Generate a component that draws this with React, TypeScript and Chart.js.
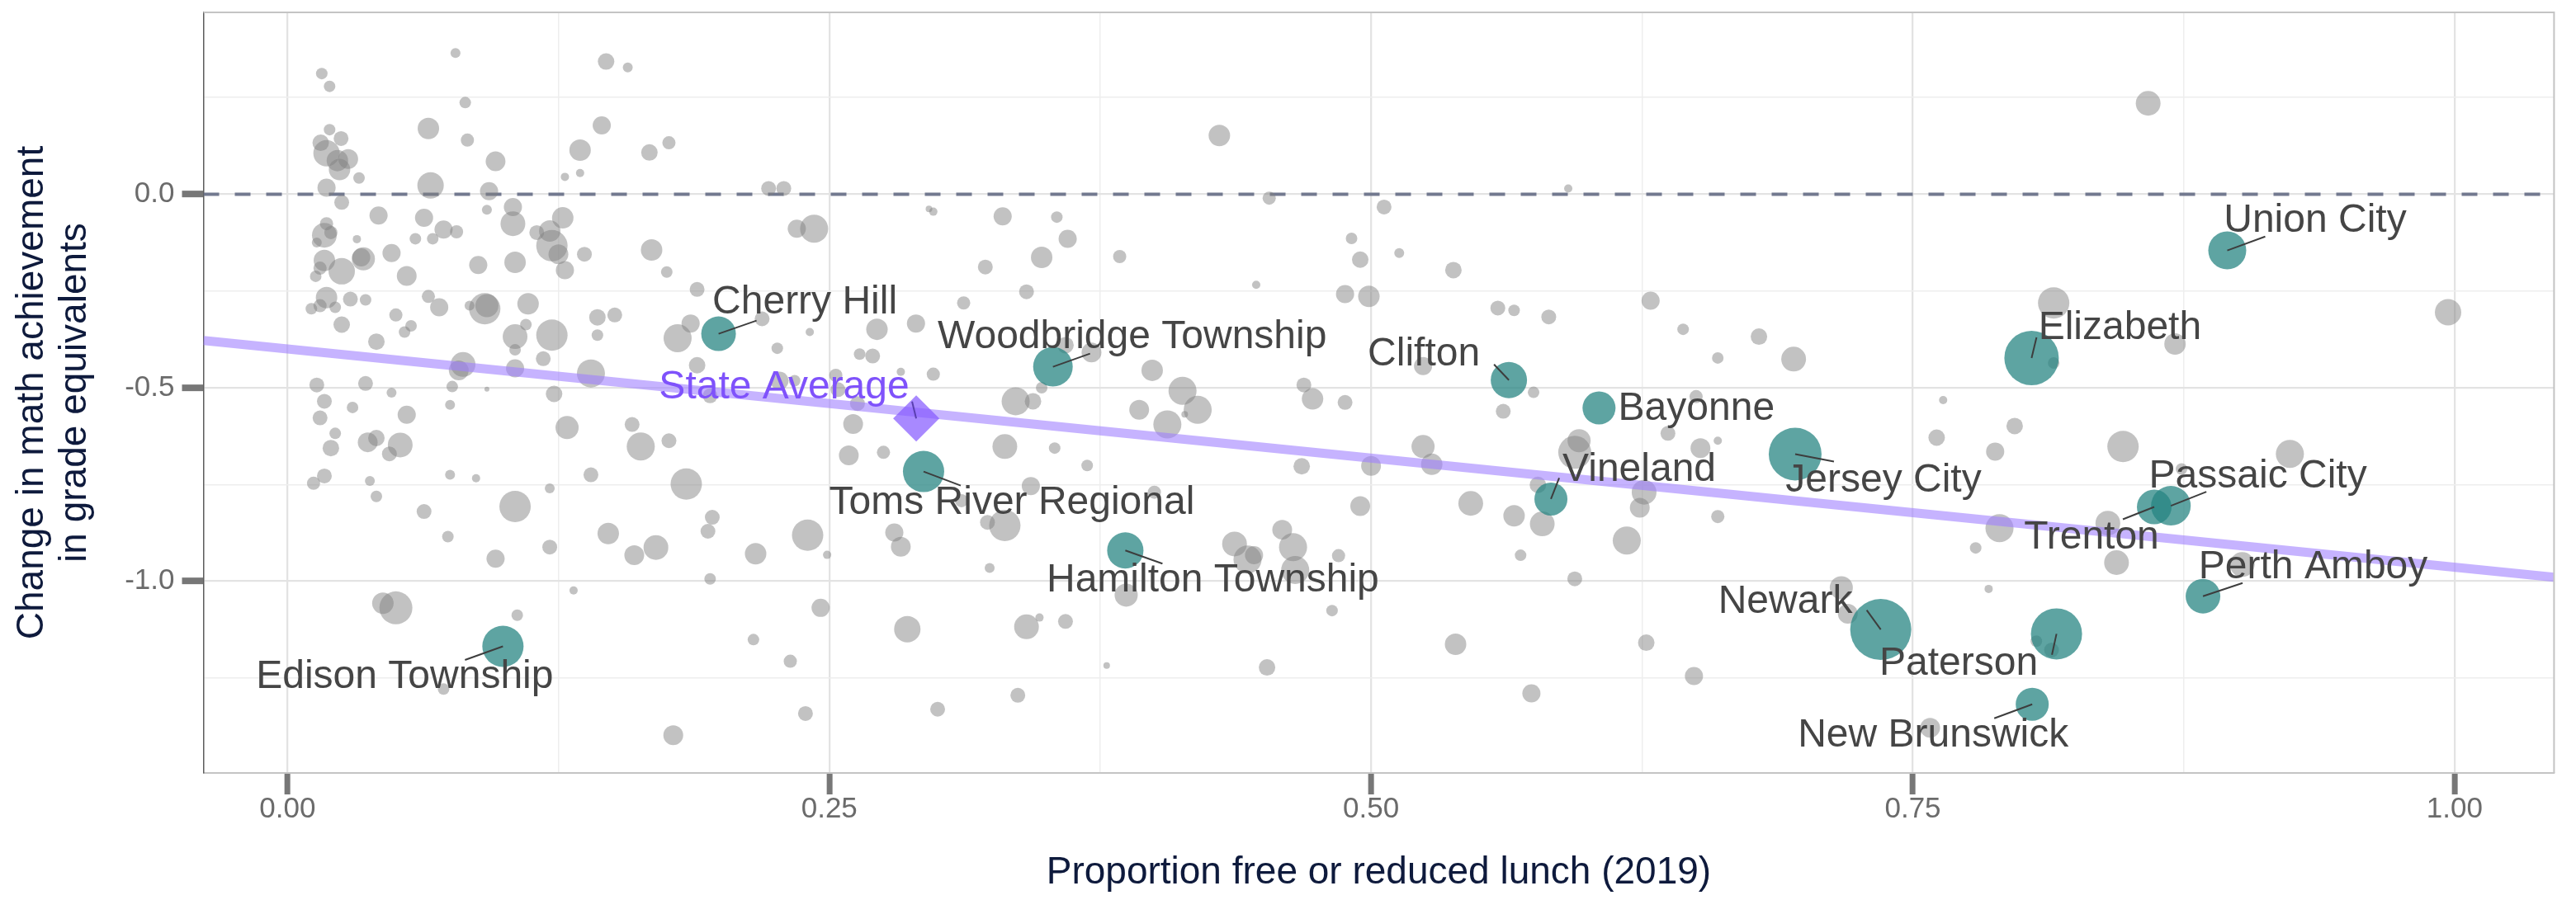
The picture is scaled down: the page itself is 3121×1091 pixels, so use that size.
import React, { useEffect, useRef } from 'react';
import { Chart, registerables } from 'chart.js';

Chart.register(...registerables);

// ---------- axis ticks / limits ----------
const X_MAJOR = [0, 0.25, 0.5, 0.75, 1.0];
const X_TICK_LABELS = ['0.00', '0.25', '0.50', '0.75', '1.00'];
const X_MINOR = [0.125, 0.375, 0.625, 0.875];
const Y_MAJOR = [-1.0, -0.5, 0.0];
const Y_TICK_LABELS = ['-1.0', '-0.5', '0.0'];
const Y_MINOR = [-1.25, -0.75, -0.25, 0.25];
const X_LIMITS = [-0.0388, 1.0459];
const Y_LIMITS = [-1.4957, 0.4701];

const X_TITLE = 'Proportion free or reduced lunch (2019)';
const Y_TITLE = ['Change in math achievement', 'in grade equivalents'];

// ---------- all other districts (grey) ----------
const GRAY_X = [
  0.0775, 0.0158, 0.0194, 0.147, 0.157, 0.082, 0.065, 0.145, 0.0194, 0.0153,
  0.0247, 0.018, 0.023, 0.028, 0.024, 0.033, 0.083, 0.096, 0.135, 0.167,
  0.176, 0.128, 0.135, 0.066, 0.018, 0.093, 0.222, 0.229, 0.025, 0.042,
  0.092, 0.104, 0.063, 0.104, 0.127, 0.243, 0.235, 0.018, 0.020, 0.017,
  0.0135, 0.072, 0.078, 0.059, 0.067, 0.115, 0.121, 0.122, 0.125, 0.137,
  0.168, 0.128, 0.175, 0.032, 0.034, 0.035, 0.048, 0.017, 0.025, 0.015,
  0.013, 0.055, 0.088, 0.105, 0.189, 0.186, 0.180, 0.219, 0.241, 0.226,
  0.189, 0.264, 0.018, 0.022, 0.011, 0.015, 0.029, 0.036, 0.025, 0.041,
  0.050, 0.057, 0.054, 0.065, 0.070, 0.084, 0.091, 0.092, 0.111, 0.105,
  0.110, 0.122, 0.105, 0.105, 0.118, 0.143, 0.143, 0.151, 0.140, 0.081,
  0.079, 0.0135, 0.036, 0.048, 0.076, 0.092, 0.123, 0.017, 0.030, 0.075,
  0.055, 0.015, 0.129, 0.159, 0.022, 0.020, 0.037, 0.041, 0.052, 0.047,
  0.163, 0.176, 0.259, 0.195, 0.227, 0.234, 0.253, 0.270, 0.254, 0.261,
  0.263,
  0.017, 0.012, 0.038, 0.041, 0.075, 0.087, 0.063, 0.105, 0.121, 0.074,
  0.121, 0.096, 0.140, 0.184, 0.148, 0.160, 0.170, 0.196, 0.194, 0.216,
  0.240, 0.249, 0.195, 0.132, 0.044, 0.050, 0.106, 0.072, 0.215, 0.232,
  0.246, 0.239, 0.178,
  0.430, 0.591, 0.453, 0.506, 0.296, 0.298, 0.330, 0.355, 0.360, 0.348,
  0.384, 0.322, 0.491, 0.495, 0.513, 0.538, 0.447, 0.341, 0.488, 0.499,
  0.312, 0.290, 0.272, 0.5585, 0.566, 0.582, 0.629, 0.644, 0.660, 0.359,
  0.371, 0.399, 0.283, 0.298, 0.336, 0.344, 0.348, 0.413, 0.420, 0.393,
  0.406, 0.414, 0.469, 0.473, 0.488, 0.524, 0.575, 0.561, 0.650, 0.637,
  0.524, 0.596, 0.594, 0.652, 0.660, 0.331, 0.354, 0.275,
  0.369, 0.343, 0.311, 0.323, 0.331, 0.280, 0.283, 0.400, 0.324, 0.286,
  0.341, 0.347, 0.359, 0.337, 0.300, 0.378, 0.452, 0.482, 0.387, 0.437,
  0.446, 0.443, 0.459, 0.464, 0.465, 0.485, 0.468, 0.500, 0.495, 0.528,
  0.546, 0.566, 0.579, 0.577, 0.569, 0.594, 0.626, 0.624, 0.618, 0.660,
  0.539, 0.627, 0.649, 0.574,
  0.8586, 0.815, 0.997, 0.871, 0.679, 0.695, 0.764, 0.797, 0.761, 0.788,
  0.847, 0.924, 0.815,
  0.874, 0.790, 0.779, 0.840, 0.844, 0.902, 0.785, 0.717, 0.720, 0.807,
  0.814, 0.758,
];
const GRAY_Y = [
  0.365, 0.312, 0.279, 0.343, 0.328, 0.237, 0.170, 0.178, 0.167, 0.133,
  0.144, 0.106, 0.087, 0.091, 0.064, 0.042, 0.140, 0.085, 0.114, 0.108,
  0.133, 0.045, 0.055, 0.023, 0.017, 0.008, 0.015, 0.015, -0.021, -0.055,
  -0.040, -0.033, -0.061, -0.076, -0.061, -0.089, -0.089, -0.076, -0.099, -0.106,
  -0.125, -0.091, -0.097, -0.115, -0.115, -0.099, -0.095, -0.133, -0.155, -0.155,
  -0.144, -0.196, -0.201, -0.116, -0.163, -0.167, -0.152, -0.171, -0.199, -0.191,
  -0.212, -0.211, -0.183, -0.176, -0.246, -0.334, -0.372, -0.322, -0.356, -0.398,
  -0.442, -0.413, -0.267, -0.292, -0.296, -0.288, -0.271, -0.273, -0.337, -0.381,
  -0.312, -0.340, -0.356, -0.264, -0.292, -0.288, -0.296, -0.288, -0.283, -0.368,
  -0.337, -0.364, -0.402, -0.450, -0.425, -0.318, -0.364, -0.312, -0.463, -0.440,
  -0.455, -0.493, -0.489, -0.513, -0.497, -0.504, -0.516, -0.535, -0.551, -0.544,
  -0.570, -0.578, -0.603, -0.595, -0.618, -0.656, -0.641, -0.630, -0.648, -0.671,
  -0.652, -0.637, -0.675, -0.521, -0.482, -0.482, -0.468, -0.418, -0.505, -0.594,
  -0.541,
  -0.728, -0.747, -0.741, -0.781, -0.725, -0.734, -0.820, -0.807, -0.760, -0.885,
  -0.912, -0.942, -0.725, -0.749, -0.877, -0.933, -0.913, -0.835, -0.871, -0.929,
  -0.881, -0.932, -0.994, -1.024, -1.057, -1.069, -1.088, -1.279, -1.151, -1.207,
  -1.069, -1.342, -1.398,
  0.152, 0.015, -0.010, -0.033, -0.038, -0.045, -0.057, -0.059, -0.115, -0.163,
  -0.161, -0.188, -0.114, -0.169, -0.152, -0.196, -0.234, -0.252, -0.258, -0.264,
  -0.281, -0.334, -0.349, -0.294, -0.300, -0.317, -0.275, -0.349, -0.423, -0.390,
  -0.409, -0.455, -0.459, -0.465, -0.535, -0.535, -0.500, -0.508, -0.557, -0.557,
  -0.595, -0.569, -0.493, -0.529, -0.538, -0.444, -0.512, -0.561, -0.523, -0.618,
  -0.652, -0.637, -0.667, -0.656, -0.637, -0.652, -0.656, -0.667,
  -0.701, -0.754, -0.792, -0.848, -0.856, -0.874, -0.911, -0.770, -0.966, -1.124,
  -1.118, -1.094, -1.104, -1.295, -1.331, -1.218, -1.223, -1.076, -1.036, -0.904,
  -0.933, -0.944, -0.867, -0.912, -0.971, -0.934, -0.703, -0.702, -0.806, -0.698,
  -0.799, -0.831, -0.852, -0.751, -0.933, -0.994, -0.770, -0.810, -0.895, -0.833,
  -1.163, -1.159, -1.245, -1.290,
  0.235, -0.281, -0.305, -0.387, -0.368, -0.426, -0.532, -0.599, -0.629, -0.665,
  -0.652, -0.671, -0.436,
  -0.710, -0.863, -0.914, -0.850, -0.952, -0.957, -1.020, -1.017, -1.084, -1.155,
  -1.178, -1.379,
];
const GRAY_SIZE = [
  6, 7, 7, 10, 6, 7, 13, 11, 7, 10,
  9, 16, 13, 12, 13, 7, 8, 12, 13, 10,
  8, 5, 5, 16, 11, 11, 9, 9, 9, 11,
  6, 11, 11, 15, 13, 17, 11, 8, 8, 15,
  6, 11, 8, 7, 7, 9, 13, 19, 12, 9,
  13, 11, 7, 5, 11, 14, 11, 13, 16, 8,
  7, 12, 11, 13, 9, 11, 17, 9, 5, 7,
  10, 7, 13, 7, 7, 8, 9, 7, 10, 10,
  8, 7, 7, 8, 11, 6, 19, 14, 13, 15,
  7, 19, 7, 11, 9, 10, 7, 9, 17, 15,
  12, 9, 9, 6, 7, 3, 10, 9, 7, 6,
  11, 9, 14, 9, 7, 10, 12, 10, 15, 9,
  17, 9, 12, 9, 11, 7, 8, 9, 9, 12,
  9,
  9, 8, 6, 7, 6, 5, 9, 19, 6, 7,
  9, 11, 9, 19, 13, 12, 15, 9, 9, 13,
  19, 5, 7, 5, 13, 20, 7, 7, 7, 8,
  11, 9, 12,
  13, 5, 8, 9, 4, 5, 11, 7, 11, 13,
  8, 9, 7, 10, 6, 10, 5, 9, 11, 13,
  8, 11, 13, 9, 7, 9, 11, 7, 7, 10,
  12, 13, 5, 8, 17, 10, 7, 17, 17, 12,
  17, 4, 9, 13, 9, 11, 7, 9, 8, 9,
  14, 14, 20, 12, 5, 15, 7, 8,
  7, 11, 8, 9, 19, 11, 12, 8, 6, 16,
  15, 5, 9, 9, 9, 4, 10, 7, 14, 15,
  11, 17, 12, 17, 17, 8, 10, 12, 12, 13,
  15, 13, 15, 10, 7, 9, 15, 12, 17, 8,
  13, 10, 11, 11,
  15, 19, 16, 13, 10, 15, 5, 10, 10, 11,
  19, 17, 7,
  7, 17, 7, 15, 15, 15, 5, 14, 12, 7,
  9, 12,
];

// ---------- highlighted districts ----------
const DISTRICTS = [
  'Edison Township', 'Cherry Hill', 'Toms River Regional', 'Woodbridge Township',
  'Hamilton Township', 'Clifton', 'Vineland', 'Bayonne', 'Jersey City', 'Newark',
  'Elizabeth', 'New Brunswick', 'Paterson', 'Trenton', 'Passaic City',
  'Perth Amboy', 'Union City',
];
const DISTRICT_X = [
  0.0994, 0.1989, 0.2935, 0.3532, 0.3866, 0.5636, 0.5830, 0.6052, 0.6957, 0.7352,
  0.8048, 0.8051, 0.8163, 0.8614, 0.8691, 0.8839, 0.8951,
];
const DISTRICT_Y = [
  -1.1684, -0.3606, -0.7166, -0.4458, -0.9205, -0.4802, -0.7878, -0.5524, -0.6716, -1.1249,
  -0.4232, -1.3182, -1.1362, -0.8081, -0.8051, -1.0388, -0.1452,
];
const DISTRICT_SIZE = [25, 21, 25, 24, 22, 22, 20, 20, 32, 37, 33, 20, 31, 21, 24, 21, 23];

const STATE_LABEL = 'State Average';
const STATE_X = [0.2901];
const STATE_Y = [-0.5795];
const STATE_SIZE = [28];

// fitted line and reference line
const FIT_INTERCEPT = -0.4;
const FIT_SLOPE = -0.564;
const REFERENCE_Y = 0;

// ---------- label layout (pixel offsets: text dx, dy, segment end ex, ey) ----------
const LABEL_LAYOUT: Record<string, number[]> = {
  'Edison Township': [-119, 37.5, -46, 16.5],
  'Cherry Hill': [104.5, -37.6, 46, -16],
  'Toms River Regional': [107, 37.8, 45, 17],
  'Woodbridge Township': [96, -36, 45, -16],
  'Hamilton Township': [106, 37, 45, 16],
  'Clifton': [-103, -31, -18, -19],
  'Vineland': [107, -35.5, 10, -25.6],
  'Bayonne': [118, 1.4, 0, 0],
  'Jersey City': [107, 32.5, 47, 9],
  'Newark': [-115.6, -33.3, -17, -23.5],
  'Elizabeth': [107, -36.5, 6, -25],
  'New Brunswick': [-120, 37.6, -46, 17],
  'Paterson': [-118.5, 36.6, -5.5, 25.3],
  'Trenton': [-76, 37.5, -38, 15],
  'Passaic City': [105.4, -35.7, 43, -17],
  'Perth Amboy': [133.5, -34.7, 48, -16],
  'Union City': [106.5, -35.6, 46, -16.8],
};
const STATE_LABEL_LAYOUT = [-160, -37.3, -5, -20.6];

const FONT = '"Liberation Sans", Arial, Helvetica, sans-serif';

const labelPlugin = {
  id: 'districtLabels',
  afterDatasetsDraw(chart: any) {
    const { ctx, chartArea } = chart;
    const xs = chart.scales.x;
    const ys = chart.scales.y;
    ctx.save();
    // panel border (top & right)
    ctx.strokeStyle = '#c4c4c4';
    ctx.lineWidth = 2;
    ctx.beginPath();
    ctx.moveTo(chartArea.left, chartArea.top);
    ctx.lineTo(chartArea.right, chartArea.top);
    ctx.lineTo(chartArea.right, chartArea.bottom);
    ctx.stroke();

    ctx.font = `48px ${FONT}`;
    ctx.textAlign = 'center';
    ctx.textBaseline = 'middle';
    DISTRICTS.forEach((name, i) => {
      const px = xs.getPixelForValue(DISTRICT_X[i]);
      const py = ys.getPixelForValue(DISTRICT_Y[i]);
      const [dx, dy, ex, ey] = LABEL_LAYOUT[name];
      if (ex || ey) {
        ctx.strokeStyle = '#3d3d3d';
        ctx.lineWidth = 2;
        ctx.beginPath();
        ctx.moveTo(px, py);
        ctx.lineTo(px + ex, py + ey);
        ctx.stroke();
      }
      ctx.fillStyle = '#454545';
      ctx.fillText(name, px + dx, py + dy);
    });
    const sx = xs.getPixelForValue(STATE_X[0]);
    const sy = ys.getPixelForValue(STATE_Y[0]);
    const [sdx, sdy, sex, sey] = STATE_LABEL_LAYOUT;
    ctx.strokeStyle = '#5a3fb0';
    ctx.lineWidth = 2;
    ctx.beginPath();
    ctx.moveTo(sx, sy);
    ctx.lineTo(sx + sex, sy + sey);
    ctx.stroke();
    ctx.fillStyle = '#7f52fb';
    ctx.fillText(STATE_LABEL, sx + sdx, sy + sdy);
    ctx.restore();
  },
};

const isMajor = (list: number[], v: number) => list.some((m) => Math.abs(m - v) < 1e-9);

export default function App() {
  const canvasRef = useRef<HTMLCanvasElement | null>(null);

  useEffect(() => {
    const canvas = canvasRef.current;
    if (!canvas) return;

    const grayData = GRAY_X.map((x, i) => ({ x, y: GRAY_Y[i], r: GRAY_SIZE[i] }));
    const districtData = DISTRICT_X.map((x, i) => ({ x, y: DISTRICT_Y[i], r: DISTRICT_SIZE[i] }));
    const stateData = STATE_X.map((x, i) => ({ x, y: STATE_Y[i], r: STATE_SIZE[i] }));
    const fitData = X_LIMITS.map((x) => ({ x, y: FIT_INTERCEPT + FIT_SLOPE * x }));
    const refData = X_LIMITS.map((x) => ({ x, y: REFERENCE_Y }));

    const xTicks = [...X_MAJOR, ...X_MINOR].sort((a, b) => a - b);
    const yTicks = [...Y_MAJOR, ...Y_MINOR].sort((a, b) => a - b);

    const chart = new Chart(canvas, {
      type: 'bubble',
      data: {
        datasets: [
          {
            type: 'line',
            data: refData,
            borderColor: 'rgba(108,115,138,0.95)',
            borderWidth: 4,
            borderDash: [19, 19],
            pointRadius: 0,
            order: 6,
          } as any,
          {
            type: 'bubble',
            data: grayData,
            backgroundColor: 'rgba(128,128,128,0.48)',
            borderWidth: 0,
            order: 5,
          },
          {
            type: 'line',
            data: fitData,
            borderColor: 'rgba(160,128,255,0.6)',
            borderWidth: 11,
            pointRadius: 0,
            order: 4,
          } as any,
          {
            type: 'bubble',
            data: districtData,
            backgroundColor: 'rgba(38,132,130,0.74)',
            borderWidth: 0,
            order: 3,
          },
          {
            type: 'bubble',
            data: stateData,
            backgroundColor: 'rgba(135,92,255,0.72)',
            borderWidth: 0,
            pointStyle: 'rectRot',
            order: 2,
          } as any,
        ],
      },
      options: {
        responsive: false,
        animation: false,
        events: [],
        layout: { autoPadding: false, padding: { top: 15, right: 26.6, bottom: 0, left: 0 } },
        plugins: {
          legend: { display: false },
          tooltip: { enabled: false },
        },
        scales: {
          x: {
            type: 'linear',
            min: X_LIMITS[0],
            max: X_LIMITS[1],
            afterBuildTicks: (scale: any) => {
              scale.ticks = xTicks.map((v) => ({ value: v }));
            },
            afterFit: (scale: any) => {
              scale.height = 154;
              scale.paddingLeft = 0;
              scale.paddingRight = 0;
            },
            ticks: {
              autoSkip: false,
              maxRotation: 0,
              minRotation: 0,
              padding: 1,
              color: '#6b6b6b',
              font: { family: FONT, size: 35, lineHeight: 1 },
              callback: (v: any) => {
                const idx = X_MAJOR.findIndex((m) => Math.abs(m - Number(v)) < 1e-9);
                return idx >= 0 ? X_TICK_LABELS[idx] : '';
              },
            },
            grid: {
              color: (c: any) => (c.tick && isMajor(X_MAJOR, c.tick.value) ? '#e3e3e3' : '#eeeeee'),
              lineWidth: (c: any) => (c.tick && isMajor(X_MAJOR, c.tick.value) ? 2.3 : 1.5),
              tickLength: 26,
              tickWidth: (c: any) => (c.tick && isMajor(X_MAJOR, c.tick.value) ? 7 : 0),
              tickColor: (c: any) => (c.tick && isMajor(X_MAJOR, c.tick.value) ? '#777777' : 'rgba(0,0,0,0)'),
            },
            border: { display: true, color: '#c4c4c4', width: 2 },
            title: {
              display: true,
              text: X_TITLE,
              color: '#0e1a3c',
              font: { family: FONT, size: 46, lineHeight: 1 },
              padding: { top: 0, bottom: 10 },
            },
          },
          y: {
            type: 'linear',
            min: Y_LIMITS[0],
            max: Y_LIMITS[1],
            afterBuildTicks: (scale: any) => {
              scale.ticks = yTicks.map((v) => ({ value: v }));
            },
            afterFit: (scale: any) => {
              scale.width = 246.5;
              scale.paddingTop = 0;
              scale.paddingBottom = 0;
            },
            ticks: {
              autoSkip: false,
              padding: 9,
              color: '#6b6b6b',
              font: { family: FONT, size: 35, lineHeight: 1 },
              callback: (v: any) => {
                const idx = Y_MAJOR.findIndex((m) => Math.abs(m - Number(v)) < 1e-9);
                return idx >= 0 ? Y_TICK_LABELS[idx] : '';
              },
            },
            grid: {
              color: (c: any) => (c.tick && isMajor(Y_MAJOR, c.tick.value) ? '#e3e3e3' : '#eeeeee'),
              lineWidth: (c: any) => (c.tick && isMajor(Y_MAJOR, c.tick.value) ? 2.3 : 1.5),
              tickLength: 26,
              tickWidth: (c: any) => (c.tick && isMajor(Y_MAJOR, c.tick.value) ? 8 : 0),
              tickColor: (c: any) => (c.tick && isMajor(Y_MAJOR, c.tick.value) ? '#777777' : 'rgba(0,0,0,0)'),
            },
            border: { display: true, color: '#5c5c5c', width: 1.5 },
            title: {
              display: true,
              text: Y_TITLE,
              color: '#0e1a3c',
              font: { family: FONT, size: 46, lineHeight: 52 / 46 },
              padding: { top: 13, bottom: 0 },
            },
          },
        },
      } as any,
      plugins: [labelPlugin],
    });

    return () => {
      chart.destroy();
    };
  }, []);

  return (
    <div style={{ position: 'absolute', left: 0, top: 0, width: 3121, height: 1091, background: '#ffffff' }}>
      <canvas ref={canvasRef} width={3121} height={1091} style={{ display: 'block' }} />
    </div>
  );
}
